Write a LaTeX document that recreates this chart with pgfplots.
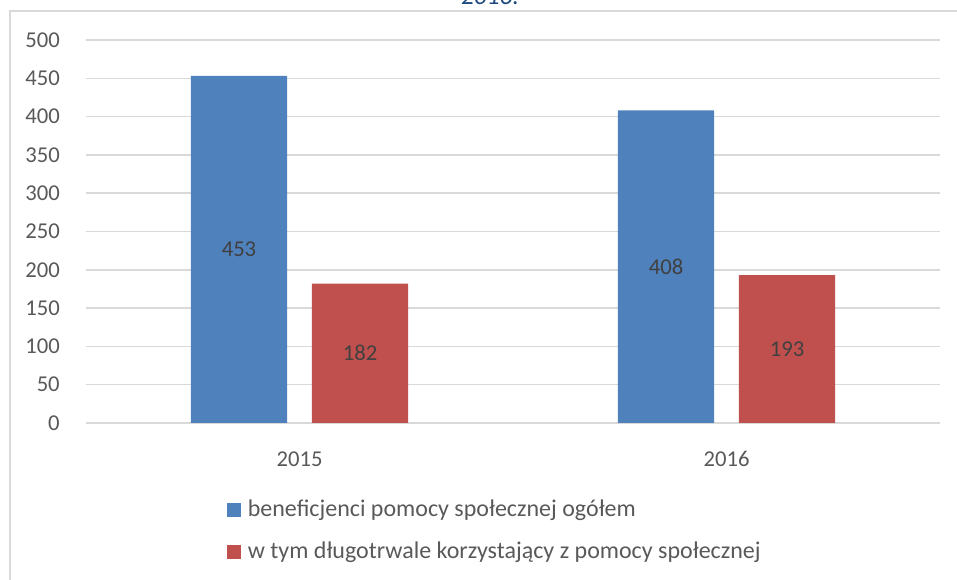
\documentclass[border=0pt]{standalone}
\usepackage{fontspec}
\setmainfont{Carlito}
\usepackage{pgfplots}
\pgfplotsset{compat=1.18}
\definecolor{barblue}{HTML}{4F81BD}
\definecolor{barred}{HTML}{C0504D}
\definecolor{txtgray}{HTML}{595959}
\definecolor{lblgray}{HTML}{404040}
\definecolor{gridgray}{HTML}{D9D9D9}
\definecolor{titleblue}{HTML}{1F497D}
\begin{document}
\begin{tikzpicture}[x=0.75pt,y=0.75pt]
\useasboundingbox (0,0) rectangle (957,580);
\clip (0,0) rectangle (957,580);
\draw[gridgray, line width=1.5] (10,-5) -- (10,569) -- (965,569);
\node[titleblue, anchor=base, font=\fontsize{19pt}{22pt}\selectfont\itshape, inner sep=0pt] at (490,575) {2016.};
\begin{axis}[
  at={(64.5pt,117.75pt)}, anchor=south west,
  scale only axis, width=640.5pt, height=287.25pt,
  xmin=-0.5, xmax=1.5, ymin=0, ymax=500,
  ybar, bar width=0.225,
  xtick={0,1}, xticklabels={2015,2016},
  ytick={0,50,...,500},
  axis line style={draw=none},
  tick style={draw=none},
  ymajorgrids, major grid style={gridgray, line width=1.1pt},
  /pgf/number format/assume math mode=true,
  tick label style={font=\fontsize{17pt}{20pt}\selectfont, text=txtgray},
  yticklabel style={anchor=east, inner sep=0pt, xshift=-19.5pt},
  xticklabel style={anchor=north, inner sep=0pt, yshift=-17pt},
  nodes near coords,
  visualization depends on=y \as \rawy,
  every node near coord/.append style={anchor=center, font=\fontsize{17pt}{20pt}\selectfont, text=lblgray, shift={(axis direction cs:0,-\rawy/2)}},
  legend style={draw=none, fill=none, at={(0.165,-0.194)}, anchor=north west,
    font=\fontsize{18pt}{21pt}\selectfont, text=txtgray, row sep=13.5pt, inner sep=0pt,
    /tikz/every odd column/.append style={column sep=3pt}},
  legend cell align=left,
  legend image code/.code={\fill[#1] (0pt,-5.25pt) rectangle (10.5pt,5.25pt);},
]
\addplot[fill=barblue, draw=none, bar shift=-0.1417] coordinates {(0,453) (1,408)};
\addplot[fill=barred, draw=none, bar shift=0.1417] coordinates {(0,182) (1,193)};
\legend{beneficjenci pomocy społecznej ogółem, w tym długotrwale korzystający z pomocy społecznej}
\end{axis}
\end{tikzpicture}
\end{document}
